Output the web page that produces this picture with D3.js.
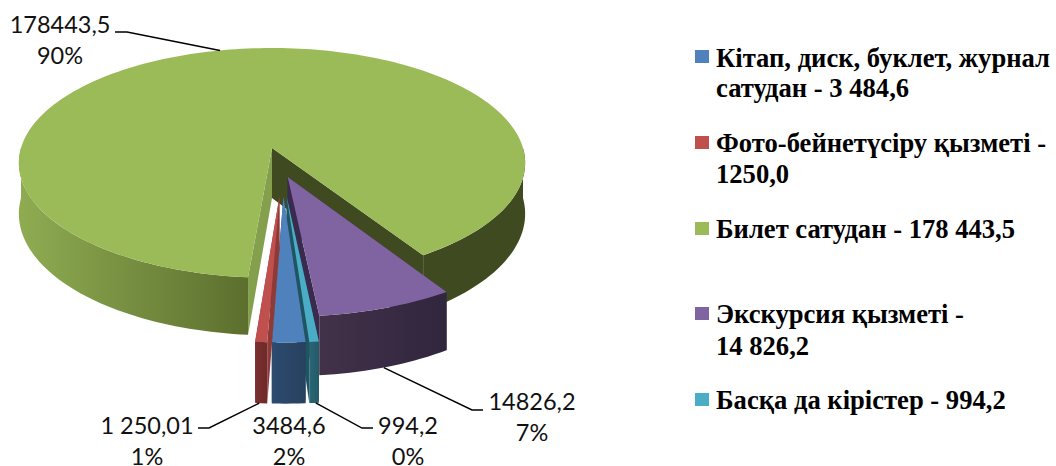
<!DOCTYPE html>
<html>
<head>
<meta charset="utf-8">
<script src="https://cdn.jsdelivr.net/npm/d3@7"></script>
<style>
  html, body { margin: 0; padding: 0; background: #fff; }
  svg { display: block; }
</style>
</head>
<body>
<script>
// chart data, order as in the legend
const categories = [
  ['Кітап, диск, буклет, журнал', 'сатудан - 3 484,6'],
  ['Фото-бейнетүсіру қызметі -', '1250,0'],
  ['Билет сатудан - 178 443,5'],
  ['Экскурсия қызметі -', '14 826,2'],
  ['Басқа да кірістер - 994,2']
];
const values = [3484.6, 1250.01, 178443.5, 14826.2, 994.2];
const valueLabels = ['3484,6', '1 250,01', '178443,5', '14826,2', '994,2'];
const percentLabels = ['2%', '1%', '90%', '7%', '0%'];

// styling
const colors = ['#4F81BD', '#C0504D', '#9BBB59', '#8064A2', '#4BACC6'];
const wallColors = [
  ['#2D4B70', '#27415F'],
  ['#7A302E', '#6E2B29'],
  ['#8FAC52', '#5C6F2E'],
  ['#423149', '#30263E'],
  ['#2A6675', '#235A68']
];
const cutColors = ['#27415F', '#8E3A38', '#85A04C', '#3A2B4E', '#1F5563'];
const explode = [0.2, 0.2, 0.2, 0.045, 0.2];
// small corrections to the explode direction, in pie radii
const nudgeU = [-0.007, -0.007, 0, -0.002, -0.009];
const nudgeV = [0.012, 0.012, 0, 0.012, 0.012];

const width = 1056, height = 466;
const cx = 272, cy = 148, rx = 251, ry = 113;
const persp = 0.13, depth = 50;
const rad = Math.PI / 180;

// pie is turned so the ticket slice starts at the front left
const slices = d3.pie().sort(null)
  .startAngle(176.2 * rad)
  .endAngle((176.2 + 360) * rad)(values);

const svg = d3.select('body').append('svg')
  .attr('width', width)
  .attr('height', height);

const defs = svg.append('defs');

// centre of the whole pie, the ticket slice gets pushed back to cx, cy
const ticketMid = (slices[2].startAngle + slices[2].endAngle) / 2;
const pieU = -explode[2] * Math.sin(ticketMid);
const pieV = explode[2] * Math.cos(ticketMid);

const project = (i, angle, r, bottom) => {
  const mid = (slices[i].startAngle + slices[i].endAngle) / 2;
  const u = pieU + nudgeU[i] + explode[i] * Math.sin(mid) + r * Math.sin(angle);
  const v = pieV + nudgeV[i] - explode[i] * Math.cos(mid) - r * Math.cos(angle);
  const s = 1 / (1 - persp * v);
  return [cx + rx * u * s, cy + ry * v * s + (bottom ? depth * s : 0)];
};

const line = d3.line();
const arcAngles = (a0, a1) => {
  const n = Math.max(2, Math.ceil((a1 - a0) / (1.5 * rad)));
  return d3.range(n + 1).map(k => a0 + (a1 - a0) * k / n);
};

// parts of the rim that face the viewer
const frontArcs = d => {
  const out = [];
  for (let k = 0; k < 2; k++) {
    const lo = Math.max(d.startAngle, (90 + 360 * k) * rad);
    const hi = Math.min(d.endAngle, (270 + 360 * k) * rad);
    if (hi > lo) out.push([lo, hi]);
  }
  return out;
};

const drawOrder = [2, 3, 4, 0, 1];
const pie = svg.append('g').attr('id', 'pie');

drawOrder.forEach(i => {
  const d = slices[i];
  const g = pie.append('g').attr('class', 'slice');

  // cut faces
  [d.startAngle, d.endAngle].forEach((a, j) => {
    const pts = [
      project(i, 0, 0, false),
      project(i, a, 1, false),
      project(i, a, 1, true),
      project(i, 0, 0, true)
    ];
    g.append('path')
      .attr('d', line(pts) + 'Z')
      .attr('fill', i === 2 && j === 1 ? '#3F4A21' : cutColors[i]);
  });

  // outer wall with a light falling off along x
  frontArcs(d).forEach((arc, j) => {
    const angles = arcAngles(arc[0], arc[1]);
    const topEdge = angles.map(a => project(i, a, 1, false));
    const botEdge = angles.map(a => project(i, a, 1, true)).reverse();
    const xs = topEdge.map(p => p[0]);
    const id = `wall-${i}-${j}`;
    const right = i === 2 && arc[0] > Math.PI * 2;
    const stops = right ? ['#3F4A21', '#3F4A21'] : wallColors[i];
    const grad = defs.append('linearGradient')
      .attr('id', id)
      .attr('gradientUnits', 'userSpaceOnUse')
      .attr('x1', d3.min(xs)).attr('x2', d3.max(xs))
      .attr('y1', 0).attr('y2', 0);
    grad.append('stop').attr('offset', 0).attr('stop-color', stops[0]);
    grad.append('stop').attr('offset', 1).attr('stop-color', stops[1]);
    g.append('path')
      .attr('d', line(topEdge.concat(botEdge)) + 'Z')
      .attr('fill', `url(#${id})`);
  });

  // top surface
  const topPts = [project(i, 0, 0, false)]
    .concat(arcAngles(d.startAngle, d.endAngle).map(a => project(i, a, 1, false)));
  g.append('path')
    .attr('d', line(topPts) + 'Z')
    .attr('fill', colors[i]);
});

// data labels and leader lines
const labelLayout = [
  {x: 289, y: 434, leader: null},
  {x: 147, y: 434, leader: {ax: 184, bottom: true, knee: [209, 428], end: [198, 428]}},
  {x: 60, y: 33, leader: {ax: 346.5, bottom: false, knee: [127, 32], end: [115, 32]}},
  {x: 532, y: 410, leader: {ax: 161.6, bottom: true, knee: [472, 410], end: [483, 410]}},
  {x: 408, y: 434, leader: {ax: 175, bottom: true, knee: [362, 428], end: [373, 428]}}
];

const labels = svg.append('g').attr('id', 'labels')
  .attr('font-family', 'Lato, sans-serif')
  .attr('font-size', 23.5)
  .attr('fill', '#111')
  .attr('text-anchor', 'middle');

labelLayout.forEach((l, i) => {
  if (l.leader) {
    const start = project(i, l.leader.ax * rad, 1, l.leader.bottom);
    labels.append('path')
      .attr('d', line([start, l.leader.knee, l.leader.end]))
      .attr('fill', 'none')
      .attr('stroke', '#000')
      .attr('stroke-width', 1.4);
  }
  labels.append('text').attr('x', l.x).attr('y', l.y).text(valueLabels[i]);
  labels.append('text').attr('x', l.x).attr('y', l.y + 31).text(percentLabels[i]);
});

// legend, rows keep the uneven spacing of the original
const legendRows = [
  {box: 50, lines: [67, 97]},
  {box: 136, lines: [152, 183]},
  {box: 222, lines: [238]},
  {box: 307, lines: [323, 355]},
  {box: 393, lines: [409]}
];

const legend = svg.append('g').attr('id', 'legend')
  .attr('font-family', '"Liberation Serif", serif')
  .attr('font-weight', 'bold')
  .attr('font-size', 26.6)
  .attr('fill', '#000');

categories.forEach((rows, i) => {
  legend.append('rect')
    .attr('x', 695).attr('y', legendRows[i].box)
    .attr('width', 14).attr('height', 13)
    .attr('fill', colors[i]);
  rows.forEach((t, j) => {
    legend.append('text')
      .attr('x', 716)
      .attr('y', legendRows[i].lines[j])
      .text(t);
  });
});
</script>
</body>
</html>
